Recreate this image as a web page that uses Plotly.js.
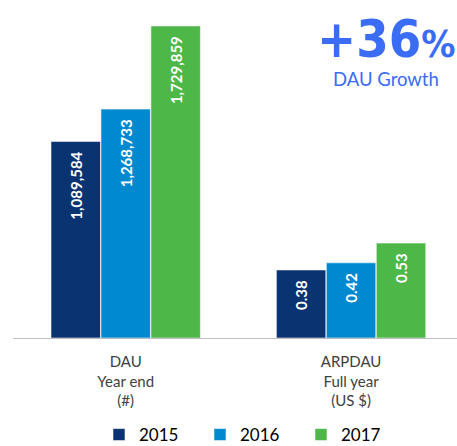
<!DOCTYPE html>
<html>
<head>
<meta charset="utf-8">
<script src="https://cdn.plot.ly/plotly-3.0.1.min.js"></script>
<style>html,body{margin:0;padding:0;background:#fff;}#chart{width:457px;height:446px;}</style>
</head>
<body>
<div id="chart"></div>
<script>
const categories = ['DAU', 'ARPDAU'];
const tickLabels = ['DAU<br>Year end<br>(#)', 'ARPDAU<br>Full year<br>(US $)'];
const years = ['2015', '2016', '2017'];
const dauValues = [1089584, 1268733, 1729859];
const arpdauValues = [0.38, 0.42, 0.53];
const colors = ['#0a3372', '#0089cf', '#4db848'];
const growthLabel = '+36';
const growthSub = 'DAU Growth';

const FONT = 'Lato, "Open Sans", sans-serif';
const NARROW = '"Liberation Sans Narrow", "DejaVu Sans Condensed", Lato, sans-serif';
const traces = [];
years.forEach((yr, i) => {
  const common = {
    type: 'bar',
    name: yr,
    legendgroup: yr,
    offsetgroup: yr,
    marker: {color: colors[i], line: {color: 'rgba(255,255,255,0.55)', width: 1}},
    textposition: 'inside',
    insidetextanchor: 'end',
    textangle: -90,
    constraintext: 'none',
    textfont: {family: FONT, size: 15, color: '#ffffff', weight: 'bold'},
    hoverinfo: 'skip'
  };
  traces.push(Object.assign({}, common, {
    x: [categories[0]], y: [dauValues[i]], yaxis: 'y',
    texttemplate: '%{y:,.0f}\u00a0\u00a0', showlegend: true
  }));
  traces.push(Object.assign({}, common, {
    x: [categories[1]], y: [arpdauValues[i]], yaxis: 'y2',
    texttemplate: '%{y:.2f}\u00a0\u00a0', showlegend: false
  }));
});

const layout = {
  width: 457, height: 446,
  margin: {l: 13, r: 0, t: 10, b: 108},
  paper_bgcolor: '#fff', plot_bgcolor: '#fff',
  barmode: 'group', bargap: 0.335, bargroupgap: 0.01,
  font: {family: FONT},
  xaxis: {
    type: 'category', range: [-0.5, 1.47],
    tickvals: categories, ticktext: tickLabels,
    showline: true, linecolor: '#bfbfbf', linewidth: 1,
    ticks: '', showgrid: false, zeroline: false,
    ticklabelstandoff: 10,
    tickfont: {family: FONT, size: 15, color: '#404040'}
  },
  yaxis: {visible: false, range: [0, 1818000], fixedrange: true},
  yaxis2: {visible: false, overlaying: 'y', range: [0, 1.832], fixedrange: true},
  legend: {
    orientation: 'h', xref: 'container', yref: 'container',
    x: 99 / 457, xanchor: 'left', y: 1 - 435 / 446, yanchor: 'middle',
    entrywidth: 56,
    font: {family: FONT, size: 17, color: '#000'},
    traceorder: 'normal'
  },
  annotations: [
    {xref: 'paper', yref: 'paper', x: (386 - 13) / 444, y: (338 - 39) / 328, xanchor: 'center', yanchor: 'middle',
     text: '<b>' + growthLabel + '<span style="font-size:38px">%</span></b>', showarrow: false,
     font: {family: NARROW, size: 52, color: '#3b6cf5'}},
    {xref: 'paper', yref: 'paper', x: (386 - 13) / 444, y: (338 - 79) / 328, xanchor: 'center', yanchor: 'middle',
     text: growthSub, showarrow: false,
     font: {family: FONT, size: 18.5, color: '#3b6cf5'}}
  ]
};

Plotly.newPlot('chart', traces, layout, {displayModeBar: false, staticPlot: true});
</script>
</body>
</html>
